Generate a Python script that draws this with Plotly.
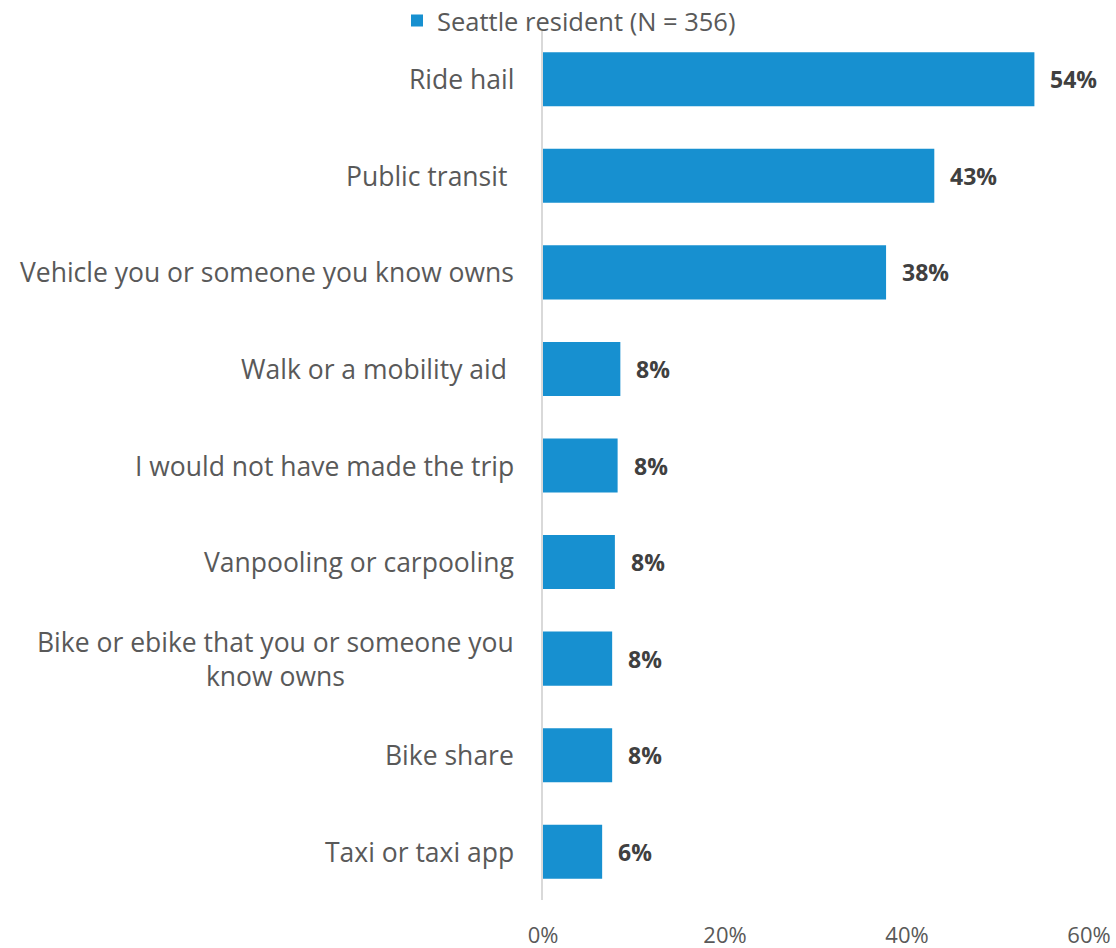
import plotly.graph_objects as go

categories = [
    "Ride hail",
    "Public transit ",
    "Vehicle you or someone you know owns",
    "Walk or a mobility aid ",
    "I would not have made the trip",
    "Vanpooling or carpooling",
    "Bike or ebike that you or someone you<br>know owns",
    "Bike share",
    "Taxi or taxi app",
]
values = [54.0, 43.0, 37.7, 8.5, 8.2, 7.9, 7.6, 7.6, 6.5]
value_labels = ["54%", "43%", "38%", "8%", "8%", "8%", "8%", "8%", "6%"]
series_name = "Seattle resident (N = 356)"
x_ticks = [0, 20, 40, 60]
x_tick_labels = ["0%", "20%", "40%", "60%"]

FONT = "Open Sans, Segoe UI, sans-serif"
BAR = "#1790D0"
GRAY = "#595959"

ids = list(range(len(categories)))

fig = go.Figure()
fig.add_trace(go.Bar(
    x=values, y=ids, orientation="h", name=series_name,
    marker=dict(color=BAR, line=dict(width=0)), width=0.56,
    showlegend=True, hoverinfo="skip",
))

annotations = []
for i, (cat, v, lab) in enumerate(zip(categories, values, value_labels)):
    annotations.append(dict(
        x=0, y=i, xref="x", yref="y", text=cat, showarrow=False,
        xanchor="right", yanchor="middle", align="center", xshift=-27,
        font=dict(family=FONT, size=26.5, color=GRAY),
    ))
    annotations.append(dict(
        x=v, y=i, xref="x", yref="y", text="<b>" + lab + "</b>", showarrow=False,
        xanchor="left", yanchor="middle", xshift=14,
        font=dict(family=FONT, size=23, color="#404040"),
    ))

W, H = 1116, 948
fig.update_layout(
    width=W, height=H,
    margin=dict(l=543, r=27, t=31, b=48, autoexpand=False),
    paper_bgcolor="white", plot_bgcolor="white",
    font=dict(family=FONT, color=GRAY),
    annotations=annotations,
    showlegend=True,
    legend=dict(
        orientation="h", xref="container", yref="container",
        x=397 / W, xanchor="left", y=1 - 21 / H, yanchor="middle",
        font=dict(family=FONT, size=25.5, color=GRAY),
        bgcolor="rgba(0,0,0,0)", itemwidth=30,
    ),
)
fig.update_xaxes(
    range=[0, 60], tickvals=x_ticks, ticktext=x_tick_labels,
    showgrid=False, zeroline=False, showline=False, automargin=False,
    tickfont=dict(family=FONT, size=22, color=GRAY),
    ticks="", ticklabelstandoff=20,
)
fig.update_yaxes(
    range=[len(categories) - 0.5, -0.5], tickvals=ids, showticklabels=False,
    showgrid=False, zeroline=False, showline=True, linecolor="#D9D9D9", linewidth=2,
    ticks="", automargin=False,
)

fig.write_html(
    "out.html",
    config={"displayModeBar": False},
    post_script="document.body.style.margin='0';document.body.style.overflow='hidden';",
)
